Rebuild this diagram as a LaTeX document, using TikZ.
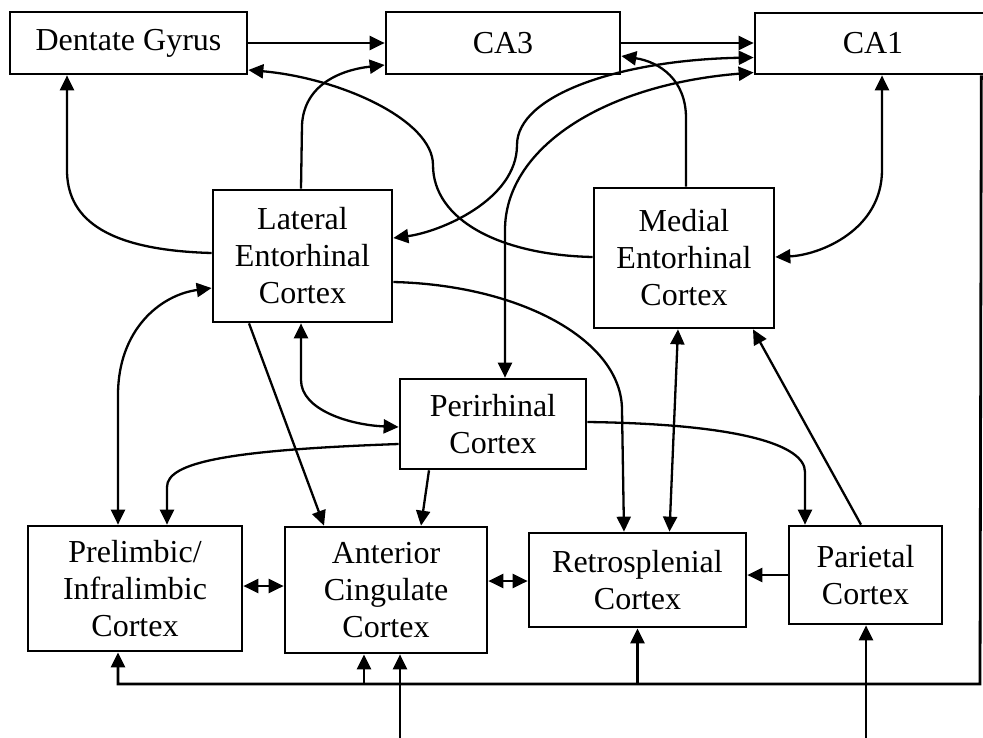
\documentclass[tikz,border=0pt]{standalone}
\usepackage{fontspec}
\setmainfont{Liberation Serif}
\usetikzlibrary{arrows.meta,calc}
\begin{document}
\begin{tikzpicture}[x=1pt,y=-1pt,
  box/.style={draw, line width=2.7pt, inner sep=0pt, align=center, font=\fontsize{32}{37}\selectfont},
  ln/.style={line width=2.3pt},
  bus/.style={line width=2.8pt},
  >={Triangle[length=15pt,width=14pt]}]
\useasboundingbox (0,0) rectangle (983,737);
% boxes
\node[box, minimum width=237pt, minimum height=62pt] (dg) at (128.5,43) {Dentate Gyrus};
\node[box, minimum width=234pt, minimum height=62pt] (ca3) at (503,43) {CA3};
\node[box, minimum width=236pt, minimum height=61pt] (ca1) at (873,43.5) {CA1};
\node[box, minimum width=179pt, minimum height=132pt] (lec) at (302.5,256) {Lateral\\Entorhinal\\Cortex};
\node[box, minimum width=180pt, minimum height=140pt] (mec) at (684,258) {Medial\\Entorhinal\\Cortex};
\node[box, minimum width=186pt, minimum height=90pt] (per) at (493,424) {Perirhinal\\Cortex};
\node[box, minimum width=214pt, minimum height=125pt] (pl) at (135,588.5) {Prelimbic/\\Infralimbic\\Cortex};
\node[box, minimum width=202pt, minimum height=126pt] (acc) at (386,590) {Anterior\\Cingulate\\Cortex};
\node[box, minimum width=217pt, minimum height=94pt] (rsc) at (637.5,580) {Retrosplenial\\Cortex};
\node[box, minimum width=153pt, minimum height=98pt] (par) at (865.5,575) {Parietal\\Cortex};

% top row
\draw[ln,->] (dg.east) -- (ca3.west);
\draw[ln,->] (ca3.east) -- (ca1.west |- ca3.east);

% LEC -> DG
\draw[ln,->] ([yshift=3pt]lec.west) .. controls (100,250) and (67,215) .. (67,170) -- ([xshift=-61.5pt]dg.south);
% LEC -> CA3
\draw[ln,->] ([xshift=-1.5pt]lec.north) -- (302,125) .. controls (304,85) and (340,70) .. ([yshift=-22pt]ca3.west);
% MEC -> DG
\draw[ln,->] ([yshift=1pt]mec.west) .. controls (500,255) and (433,220) .. (433,165) .. controls (433,120) and (340,78) .. ([yshift=-27pt]dg.east);
% MEC -> CA3
\draw[ln,->] ([xshift=2pt]mec.north) -- (686,118) .. controls (686,80) and (660,62) .. ([yshift=-13pt]ca3.east);
% CA1 <-> LEC
\draw[ln,<->] ([yshift=-14pt]ca1.west) .. controls (620,60) and (517,95) .. (517,145) .. controls (517,200) and (440,232) .. ([yshift=18pt]lec.east);
% CA1 <-> Perirhinal
\draw[ln,<->] ([yshift=-29pt]ca1.west) .. controls (600,85) and (505,150) .. (505,230) -- ([xshift=12pt]per.north);
% CA1 <-> MEC
\draw[ln,<->] ([xshift=9pt]ca1.south) -- (882,170) .. controls (882,230) and (820,255) .. ([yshift=1pt]mec.east);
% LEC <-> PL
\draw[ln,<->] ([yshift=-32pt]lec.west) .. controls (160,295) and (118,330) .. (118,395) -- ([xshift=-17pt]pl.north);
% LEC -> ACC
\draw[ln,->] ([xshift=-53.5pt]lec.south) -- ([xshift=-62pt]acc.north);
% LEC <-> Perirhinal
\draw[ln,<->] ([xshift=-1.5pt]lec.south) -- (301,380) .. controls (301,410) and (350,425) .. ([yshift=-3pt]per.west);
% LEC -> RSC
\draw[ln,->] ([yshift=-26pt]lec.east) .. controls (520,285) and (622,340) .. (622,410) -- ([xshift=-13.5pt]rsc.north);
% MEC <-> RSC
\draw[ln,<->] ([xshift=-6pt]mec.south) -- ([xshift=32pt]rsc.north);
% Parietal -> MEC
\draw[ln,->] ([xshift=-4.5pt]par.north) -- ([xshift=69pt]mec.south);
% Perirhinal -> PL
\draw[ln,->] ([yshift=-20pt]per.west) .. controls (230,450) and (167,462) .. (167,487) -- ([xshift=32pt]pl.north);
% Perirhinal -> ACC
\draw[ln,->] ([xshift=-64pt]per.south) -- ([xshift=35pt]acc.north);
% Perirhinal -> Parietal
\draw[ln,->] ([yshift=2pt]per.east) .. controls (740,424) and (805,445) .. (805,472) -- ([xshift=-60.5pt]par.north);
% bottom row horizontal
\coordinate (plR) at ([yshift=2.5pt]pl.east);
\coordinate (accR) at ([yshift=9pt]acc.east);
\draw[ln,<->] (plR) -- (acc.west |- plR);
\draw[ln,<->] (accR) -- (rsc.west |- accR);
\draw[ln,->] (par.west) -- (rsc.east |- par.west);

% CA1 feedback bus
\coordinate (busR) at (980,684);
\coordinate (busL) at (118,684);
\coordinate (accIn) at ([xshift=-22pt]acc.south);
\draw[bus,->] ([xshift=-11pt]ca1.south east) -- (busR) -- (busL) -- ([xshift=-17pt]pl.south);
\draw[bus,->] (accIn |- busL) -- (accIn);
\draw[bus,->] (rsc.south |- busL) -- (rsc.south);

% external inputs
\coordinate (inA) at (400,740);
\coordinate (inB) at (866,740);
\draw[ln,->] (inA) -- (inA |- acc.south);
\draw[ln,->] (inB) -- (inB |- par.south);
\end{tikzpicture}
\end{document}
